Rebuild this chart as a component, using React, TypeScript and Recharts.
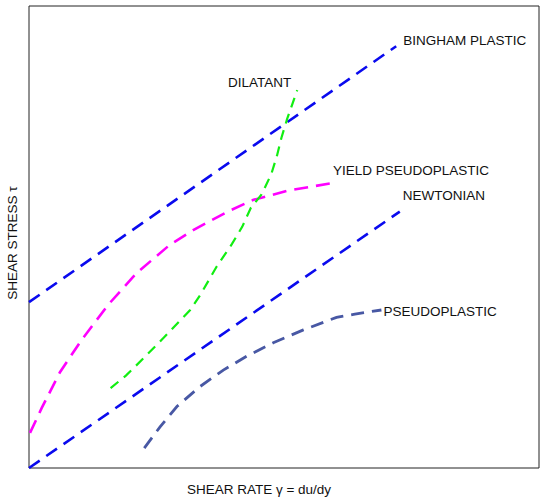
import { LineChart, Line, XAxis, YAxis, ReferenceArea, ReferenceDot } from "recharts";

const binghamPlastic = [
  { x: 0, y: 35.9 },
  { x: 72, y: 91.3 },
];

const newtonian = [
  { x: 0, y: 0 },
  { x: 72.7, y: 55.5 },
];

const yieldPseudoplastic = [
  { x: 0.2, y: 7.6 },
  { x: 2.5, y: 13.0 },
  { x: 6.1, y: 20.8 },
  { x: 10.3, y: 27.7 },
  { x: 15.5, y: 35.3 },
  { x: 21.1, y: 42.2 },
  { x: 27.6, y: 48.3 },
  { x: 32.2, y: 51.5 },
  { x: 38.8, y: 55.4 },
  { x: 43.9, y: 58.0 },
  { x: 50.6, y: 60.0 },
  { x: 59.6, y: 61.7 },
];

const dilatant = [
  { x: 16.0, y: 17.3 },
  { x: 19.0, y: 20.0 },
  { x: 22.5, y: 23.8 },
  { x: 26.5, y: 28.3 },
  { x: 31.6, y: 34.2 },
  { x: 33.6, y: 37.5 },
  { x: 36.8, y: 43.6 },
  { x: 39.8, y: 48.5 },
  { x: 41.8, y: 52.2 },
  { x: 43.5, y: 56.3 },
  { x: 45.6, y: 59.2 },
  { x: 47.5, y: 63.6 },
  { x: 48.6, y: 67.5 },
  { x: 49.5, y: 71.5 },
  { x: 50.6, y: 75.5 },
  { x: 52.6, y: 81.8 },
];

const pseudoplastic = [
  { x: 22.6, y: 4.3 },
  { x: 25.7, y: 8.9 },
  { x: 29.0, y: 13.3 },
  { x: 33.5, y: 17.6 },
  { x: 38.1, y: 21.2 },
  { x: 42.7, y: 24.2 },
  { x: 47.9, y: 27.1 },
  { x: 53.8, y: 29.9 },
  { x: 60.3, y: 32.6 },
  { x: 63.9, y: 33.3 },
  { x: 69.1, y: 34.2 },
];

const font = "'Liberation Sans', Arial, sans-serif";

// text placed next to the last point of a series
function EndLabel({ viewBox, text, dx, dy, anchor }: any) {
  const cx = viewBox.x + viewBox.width / 2;
  const cy = viewBox.y + viewBox.height / 2;
  return (
    <text x={cx + dx} y={cy + dy} textAnchor={anchor} dominantBaseline="central"
      fontFamily={font} fontSize={13.5} fill="#111">
      {text}
    </text>
  );
}

const last = (arr: { x: number; y: number }[]) => arr[arr.length - 1];

export default function App() {
  return (
    <div style={{ width: 557, height: 504 }}>
      <style>{`body{margin:0}`}</style>
      <LineChart width={557} height={504} margin={{ top: 6, right: 18, bottom: 0, left: 0 }}>
        <XAxis type="number" dataKey="x" domain={[0, 100]} tick={false} tickLine={false} axisLine={false} height={36}
          label={{ value: "SHEAR RATE γ = du/dy", position: "insideBottom", offset: 10, dx: -25, fill: "#111", fontSize: 13.5, fontFamily: font }} />
        <YAxis type="number" dataKey="y" domain={[0, 100]} tick={false} tickLine={false} axisLine={false} width={29}
          label={{ value: "SHEAR STRESS τ", angle: -90, position: "insideLeft", offset: 12, dy: 6, fill: "#111", fontSize: 13.5, fontFamily: font, style: { textAnchor: "middle" } }} />
        <ReferenceArea x1={0} x2={100} y1={0} y2={100} fill="none" stroke="#222" strokeWidth={1} />
        <Line data={binghamPlastic} dataKey="y" type="linear" stroke="#0a0aee" strokeWidth={2.6} strokeDasharray="13 8" dot={false} isAnimationActive={false} />
        <Line data={newtonian} dataKey="y" type="linear" stroke="#0a0aee" strokeWidth={2.6} strokeDasharray="13 8" dot={false} isAnimationActive={false} />
        <Line data={yieldPseudoplastic} dataKey="y" type="linear" stroke="#ff00ff" strokeWidth={2.6} strokeDasharray="14 8" dot={false} isAnimationActive={false} />
        <Line data={dilatant} dataKey="y" type="linear" stroke="#11ee11" strokeWidth={2.2} strokeDasharray="10 7" dot={false} isAnimationActive={false} />
        <Line data={pseudoplastic} dataKey="y" type="linear" stroke="#4858a4" strokeWidth={2.8} strokeDasharray="13 8" dot={false} isAnimationActive={false} />
        <ReferenceDot x={last(binghamPlastic).x} y={last(binghamPlastic).y} r={0} stroke="none"
          label={(p: any) => <EndLabel {...p} text="BINGHAM PLASTIC" dx={7} dy={-6} anchor="start" />} />
        <ReferenceDot x={last(dilatant).x} y={last(dilatant).y} r={0} stroke="none"
          label={(p: any) => <EndLabel {...p} text="DILATANT" dx={-6} dy={-8} anchor="end" />} />
        <ReferenceDot x={last(yieldPseudoplastic).x} y={last(yieldPseudoplastic).y} r={0} stroke="none"
          label={(p: any) => <EndLabel {...p} text="YIELD PSEUDOPLASTIC" dx={0} dy={-12} anchor="start" />} />
        <ReferenceDot x={last(newtonian).x} y={last(newtonian).y} r={0} stroke="none"
          label={(p: any) => <EndLabel {...p} text="NEWTONIAN" dx={3} dy={-16} anchor="start" />} />
        <ReferenceDot x={last(pseudoplastic).x} y={last(pseudoplastic).y} r={0} stroke="none"
          label={(p: any) => <EndLabel {...p} text="PSEUDOPLASTIC" dx={2} dy={2} anchor="start" />} />
      </LineChart>
    </div>
  );
}
